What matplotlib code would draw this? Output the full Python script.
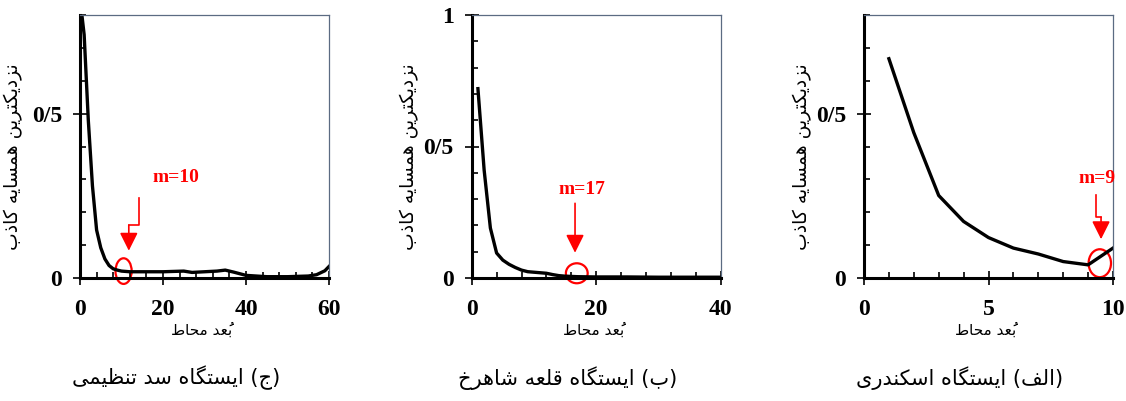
"""False nearest neighbour curves for the three stations."""

import matplotlib
matplotlib.use("Agg")
import matplotlib.pyplot as plt
from matplotlib.patches import Ellipse
from matplotlib.ticker import FuncFormatter, MultipleLocator

# (ج) ایستگاه سد تنظیمی
tanzimi_dim = [0, 1, 2, 3, 4, 5, 6, 7, 8, 9, 10, 12, 15, 20, 25, 27, 30, 33, 35, 37,
               40, 45, 50, 55, 57, 59, 60]
tanzimi_fnn = [0.85, 0.74, 0.48, 0.28, 0.146, 0.092, 0.058, 0.038, 0.028, 0.024, 0.021,
               0.019, 0.019, 0.019, 0.021, 0.017, 0.019, 0.021, 0.024, 0.018, 0.008,
               0.004, 0.004, 0.006, 0.010, 0.022, 0.035]
tanzimi_m = 10

# (ب) ایستگاه قلعه شاهرخ
shahrokh_dim = [1, 2, 3, 4, 5, 6, 7, 8, 9, 10, 11, 12, 13, 14, 15, 16, 17, 20, 25, 30, 35, 40]
shahrokh_fnn = [0.72, 0.41, 0.19, 0.095, 0.068, 0.052, 0.040, 0.030, 0.024, 0.022, 0.020,
                0.018, 0.013, 0.009, 0.007, 0.006, 0.005, 0.004, 0.004, 0.003, 0.003, 0.003]
shahrokh_m = 17

# (الف) ایستگاه اسکندری
eskandari_dim = [1, 2, 3, 4, 5, 6, 7, 8, 9, 10]
eskandari_fnn = [0.667, 0.442, 0.251, 0.172, 0.123, 0.091, 0.073, 0.050, 0.040, 0.091]
eskandari_m = 9

Y_LABEL = "نزدیکترین همسایه کاذب"
X_LABEL = "بُعد محاط"
CAPTIONS = ["(ج) ایستگاه سد تنظیمی", "(ب) ایستگاه قلعه شاهرخ", "(الف) ایستگاه اسکندری"]

# matplotlib 3.10 has no Arabic shaping, so pick presentation forms by hand
# isolated, final, initial, medial
FORMS = {
    "ا": ("\ufe8d", "\ufe8e", None, None),
    "ب": ("\ufe8f", "\ufe90", "\ufe91", "\ufe92"),
    "ت": ("\ufe95", "\ufe96", "\ufe97", "\ufe98"),
    "ج": ("\ufe9d", "\ufe9e", "\ufe9f", "\ufea0"),
    "ح": ("\ufea1", "\ufea2", "\ufea3", "\ufea4"),
    "خ": ("\ufea5", "\ufea6", "\ufea7", "\ufea8"),
    "د": ("\ufea9", "\ufeaa", None, None),
    "ذ": ("\ufeab", "\ufeac", None, None),
    "ر": ("\ufead", "\ufeae", None, None),
    "ز": ("\ufeaf", "\ufeb0", None, None),
    "س": ("\ufeb1", "\ufeb2", "\ufeb3", "\ufeb4"),
    "ش": ("\ufeb5", "\ufeb6", "\ufeb7", "\ufeb8"),
    "ط": ("\ufec1", "\ufec2", "\ufec3", "\ufec4"),
    "ظ": ("\ufec5", "\ufec6", "\ufec7", "\ufec8"),
    "ع": ("\ufec9", "\ufeca", "\ufecb", "\ufecc"),
    "ف": ("\ufed1", "\ufed2", "\ufed3", "\ufed4"),
    "ق": ("\ufed5", "\ufed6", "\ufed7", "\ufed8"),
    "ل": ("\ufedd", "\ufede", "\ufedf", "\ufee0"),
    "م": ("\ufee1", "\ufee2", "\ufee3", "\ufee4"),
    "ن": ("\ufee5", "\ufee6", "\ufee7", "\ufee8"),
    "ه": ("\ufee9", "\ufeea", "\ufeeb", "\ufeec"),
    "ک": ("\ufb8e", "\ufb8f", "\ufb90", "\ufb91"),
    "گ": ("\ufb92", "\ufb93", "\ufb94", "\ufb95"),
    "ی": ("\ufbfc", "\ufbfd", "\ufbfe", "\ufbff"),
}
MARKS = {"\u064f"}
MIRROR = {"(": ")", ")": "("}


def shape_fa(text: str) -> str:
    shaped = []
    for i, c in enumerate(text):
        if c not in FORMS:
            shaped.append(c)
            continue
        j = i - 1
        while j >= 0 and text[j] in MARKS:
            j -= 1
        k = i + 1
        while k < len(text) and text[k] in MARKS:
            k += 1
        prev_joins = j >= 0 and text[j] in FORMS and FORMS[text[j]][2] is not None
        next_joins = FORMS[c][2] is not None and k < len(text) and text[k] in FORMS
        iso, fin, ini, med = FORMS[c]
        if prev_joins and next_joins:
            shaped.append(med)
        elif prev_joins:
            shaped.append(fin)
        elif next_joins:
            shaped.append(ini)
        else:
            shaped.append(iso)
    clusters = []
    for orig, s in zip(text, shaped):
        if orig in MARKS and clusters:
            # mark goes first so it lands on top of its base letter
            clusters[-1] = s + clusters[-1]
        else:
            clusters.append(s)
    return "".join(MIRROR.get(c, c) for c in reversed(clusters))


plt.rcParams["font.family"] = ["Liberation Serif", "DejaVu Sans"]
FA_FONT = "DejaVu Sans"
RED = "#ff0000"

panels = [
    dict(dim=tanzimi_dim, fnn=tanzimi_fnn, m=tanzimi_m, left=80, xmax=60, xmajor=20, xminor=4,
         ymax=0.8, ylab_x=-0.268, caption=CAPTIONS[0],
         ell=(10.5, 0.021, 3.9, 0.078), arrow=[(14.16, 0.242), (14.16, 0.161), (11.76, 0.161)],
         tip=0.083, txt=(23.2, 0.306)),
    dict(dim=shahrokh_dim, fnn=shahrokh_fnn, m=shahrokh_m, left=471.7, xmax=40, xmajor=20, xminor=4,
         ymax=1.0, ylab_x=-0.248, caption=CAPTIONS[1],
         ell=(16.88, 0.018, 3.5, 0.076), arrow=[(16.6, 0.284)],
         tip=0.096, txt=(17.67, 0.338)),
    dict(dim=eskandari_dim, fnn=eskandari_fnn, m=eskandari_m, left=864, xmax=10, xmajor=5, xminor=1,
         ymax=0.8, ylab_x=-0.249, caption=CAPTIONS[2],
         ell=(9.47, 0.045, 0.9, 0.085), arrow=[(9.33, 0.252), (9.33, 0.185), (9.52, 0.185)],
         tip=0.118, txt=(9.34, 0.303)),
]

W, H = 1126, 401
fig = plt.figure(figsize=(W / 100, H / 100), dpi=100)
decimal_fmt = FuncFormatter(lambda v, pos: f"{v:g}".replace(".", "/"))

for p in panels:
    ax = fig.add_axes([p["left"] / W, 1 - 278 / H, 249 / W, 263 / H])
    ax.plot(p["dim"], p["fnn"], color="black", lw=2.4, solid_joinstyle="round")
    ax.set_xlim(0, p["xmax"])
    ax.set_ylim(0, p["ymax"])

    ax.xaxis.set_major_locator(MultipleLocator(p["xmajor"]))
    ax.xaxis.set_minor_locator(MultipleLocator(p["xminor"]))
    ax.yaxis.set_major_locator(MultipleLocator(0.5))
    ax.yaxis.set_minor_locator(MultipleLocator(0.1))
    ax.yaxis.set_major_formatter(decimal_fmt)
    ax.tick_params(which="major", direction="inout", length=10, width=1.2,
                   labelsize=17, pad=8)
    ax.tick_params(axis="x", which="major", pad=10)
    ax.tick_params(which="minor", direction="in", length=4, width=1.2)
    for lab in ax.get_xticklabels() + ax.get_yticklabels():
        lab.set_fontweight("bold")

    for side in ("left", "bottom"):
        ax.spines[side].set_linewidth(2.2)
    for side in ("top", "right"):
        ax.spines[side].set_linewidth(0.9)
        ax.spines[side].set_color("#5b6b82")

    ax.set_xlabel(shape_fa(X_LABEL), fontsize=11, family=FA_FONT)
    ax.xaxis.set_label_coords(0.49, -0.198)
    ax.xaxis.label.set_va("center")
    ax.set_ylabel(shape_fa(Y_LABEL), fontsize=13.5, family=FA_FONT)
    ax.yaxis.set_label_coords(p["ylab_x"], 0.46)
    ax.yaxis.label.set_va("center")

    ax.text(0.385, -0.38, shape_fa(p["caption"]), transform=ax.transAxes,
            ha="center", va="center", fontsize=15, family=FA_FONT)

    # red marker for the selected embedding dimension
    ex, ey, ew, eh = p["ell"]
    ax.add_patch(Ellipse((ex, ey), ew, eh, fill=False, edgecolor=RED, lw=1.6, clip_on=False))
    pts = p["arrow"]
    ax.plot([q[0] for q in pts], [q[1] for q in pts], color=RED, lw=1.2)
    x_end, y_end = pts[-1]
    ax.annotate("", xy=(x_end, p["tip"]), xytext=(x_end, y_end),
                arrowprops=dict(arrowstyle="-|>,head_length=1.1,head_width=0.55",
                                mutation_scale=10, color=RED, lw=1.2,
                                shrinkA=0, shrinkB=0))
    ax.text(p["txt"][0], p["txt"][1], f"m={p['m']}", color=RED, fontsize=14,
            fontweight="bold", ha="center", va="center")

fig.savefig("out.png", dpi=100)
